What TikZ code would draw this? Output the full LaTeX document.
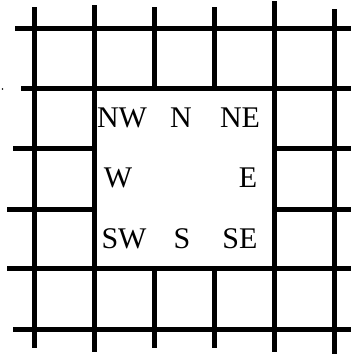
\documentclass[tikz,border=0pt]{standalone}
\usepackage{fontspec}
\setmainfont{Liberation Serif}
\begin{document}
\begin{tikzpicture}[x=1pt, y=-1pt, line width=5pt]
    \useasboundingbox (0,0) rectangle (351,354);

    % full vertical lines
    \draw (34,7) -- (34,348);
    \draw (94,5) -- (94,352);
    \draw (274,1) -- (274,352);
    \draw (334,9) -- (334,354);

    % vertical lines broken by the centre square
    \draw (154,7) -- (154,88);
    \draw (214,7) -- (214,88);
    \draw (154,268) -- (154,348);
    \draw (214,268) -- (214,348);

    % full horizontal lines
    \draw (15,28) -- (351,28);
    \draw (21,88) -- (351,88);
    \draw (7,268) -- (351,268);
    \draw (13,329) -- (351,329);

    % horizontal lines broken by the centre square
    \draw (13,148) -- (94,148);
    \draw (7,209) -- (94,209);
    \draw (274,148) -- (351,148);
    \draw (274,209) -- (351,209);

    \fill (2.5,89) circle (0.8pt);

    \begin{scope}[every node/.style={inner sep=0pt, font=\fontsize{30}{36}\selectfont}]
        \node (nw) at (122,118) {NW};
        \node (n)  at (181,118) {N};
        \node (ne) at (240,118) {NE};
        \node (w)  at (118,178) {W};
        \node (e)  at (248,178) {E};
        \node (sw) at (124,239) {SW};
        \node (s)  at (182,239) {S};
        \node (se) at (240,239) {SE};
    \end{scope}
\end{tikzpicture}
\end{document}
